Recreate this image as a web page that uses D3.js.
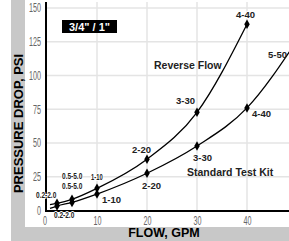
<!DOCTYPE html>
<html>
<head>
<meta charset="utf-8">
<script src="https://cdn.jsdelivr.net/npm/d3@7"></script>
<style>
  body { margin: 0; background: #fff; }
  svg { display: block; }
</style>
</head>
<body>
<div id="chart"></div>
<script>
// data
const flows = [2, 5, 10, 20, 30, 40];
const reverseFlow = [5.3, 8.3, 16.4, 38, 72.7, 138];
const standardKit = [3.3, 6, 12.2, 27.6, 47.8, 76];
const reverseLabels = ["0.2-2.0", "0.5-5.0", "1-10", "2-20", "3-30", "4-40"];
const standardLabels = ["0.2-2.0", "0.5-5.0", "1-10", "2-20", "3-30", "4-40"];
// curves start a little left of the first marker, standard runs past 40
const reverseStart = [0.6, 4.3];
const standardStart = [0.6, 1.5];
const standardEnd = [50, 126];
const xTicks = [0, 10, 20, 30, 40];
const yTicks = [0, 25, 50, 75, 100, 125, 150];

const width = 289, height = 241;

const svg = d3.select("#chart")
    .append("svg")
    .attr("width", width)
    .attr("height", height)
    .style("font-family", "'Liberation Sans', Arial, sans-serif");

// gray L frame
svg.append("rect").attr("x", 11).attr("y", 0).attr("width", width - 11).attr("height", height).attr("fill", "#c8c8c8");
svg.append("rect").attr("x", 25).attr("y", 0).attr("width", width - 25).attr("height", 227).attr("fill", "#fff");

const x = d3.scaleLinear().domain([0, 48.4]).range([47, 289]);
const y = d3.scaleLinear().domain([0, 150]).range([210.5, 8]);

const defs = svg.append("defs");
defs.append("clipPath").attr("id", "plot")
    .append("rect").attr("x", 46).attr("y", 0).attr("width", 243).attr("height", 212);

// grid
svg.append("g")
    .selectAll("line")
    .data(yTicks.filter(d => d > 0))
    .join("line")
    .attr("x1", 46).attr("x2", 289)
    .attr("y1", d => y(d)).attr("y2", d => y(d))
    .attr("stroke", "#e4e4e4").attr("stroke-width", 1.5);

svg.append("g")
    .selectAll("line")
    .data(xTicks.filter(d => d > 0))
    .join("line")
    .attr("x1", d => x(d)).attr("x2", d => x(d))
    .attr("y1", 2).attr("y2", 211)
    .attr("stroke", "#e4e4e4").attr("stroke-width", 1.5);

// axes
const yAxis = svg.append("g")
    .attr("transform", "translate(46,0)")
    .call(d3.axisLeft(y).tickValues(yTicks).tickSize(0).tickPadding(5));
yAxis.select(".domain").remove();
yAxis.selectAll("text")
    .style("font-size", "12px")
    .style("fill", "#666")
    .style("font-family", "'Liberation Sans Narrow', 'Liberation Sans', sans-serif")
    .attr("textLength", d => String(d).length * 4)
    .attr("lengthAdjust", "spacingAndGlyphs");

const xAxis = svg.append("g")
    .attr("transform", "translate(0,211)")
    .call(d3.axisBottom(x).tickValues(xTicks).tickSize(0).tickPadding(5));
xAxis.select(".domain").remove();
xAxis.selectAll("text")
    .style("font-size", "12px")
    .style("fill", "#666")
    .style("font-family", "'Liberation Sans Narrow', 'Liberation Sans', sans-serif")
    .attr("dx", d => d === 0 ? -2.5 : 0)
    .attr("textLength", d => String(d).length * 4)
    .attr("lengthAdjust", "spacingAndGlyphs");

svg.append("line").attr("x1", 46).attr("x2", 46).attr("y1", 2).attr("y2", 212)
    .attr("stroke", "#000").attr("stroke-width", 2);
svg.append("line").attr("x1", 45).attr("x2", 289).attr("y1", 211).attr("y2", 211)
    .attr("stroke", "#000").attr("stroke-width", 2);

// curves
const line = d3.line()
    .x(d => x(d[0]))
    .y(d => y(d[1]))
    .curve(d3.curveMonotoneX);

const reversePts = flows.map((f, i) => [f, reverseFlow[i]]);
const standardPts = flows.map((f, i) => [f, standardKit[i]]);

const plot = svg.append("g").attr("clip-path", "url(#plot)");
plot.append("path")
    .datum([reverseStart, ...reversePts])
    .attr("d", line)
    .attr("fill", "none").attr("stroke", "#000").attr("stroke-width", 1.3);
plot.append("path")
    .datum([standardStart, ...standardPts, standardEnd])
    .attr("d", line)
    .attr("fill", "none").attr("stroke", "#000").attr("stroke-width", 1.3);

const diamond = d3.symbol().type(d3.symbolDiamond).size(26);
plot.selectAll(".mk")
    .data(reversePts.concat(standardPts))
    .join("path")
    .attr("transform", d => `translate(${x(d[0])},${y(d[1])})`)
    .attr("d", diamond)
    .attr("fill", "#000");

// point labels (offsets from each marker)
const revOffsets = [[-21, -9], [-10, -23.5], [-6, -12], [-15, -10], [-21, -12], [-11, -10]];
const stdOffsets = [[-3, 9], [-10, -17], [5, 6], [-5, 12], [-4, 12], [5, 6]];

// smallCount: how many of the first labels are set narrow
function addLabels(pts, labels, offsets, smallCount) {
    const t = svg.append("g")
        .selectAll("text")
        .data(pts)
        .join("text")
        .attr("x", (d, i) => x(d[0]) + offsets[i][0])
        .attr("y", (d, i) => y(d[1]) + offsets[i][1])
        .attr("dy", "0.35em")
        .style("font-size", "9.5px")
        .style("font-weight", "bold")
        .style("fill", "#222")
        .style("paint-order", "stroke")
        .style("stroke", "#fff")
        .style("stroke-width", "2px")
        .text((d, i) => labels[i]);
    t.filter((d, i) => i < smallCount)
        .attr("textLength", (d, i) => labels[i].length * 2.9)
        .attr("lengthAdjust", "spacingAndGlyphs");
}
addLabels(reversePts, reverseLabels, revOffsets, 3);
addLabels(standardPts, standardLabels, stdOffsets, 2);

svg.append("text")
    .attr("x", 287).attr("y", 55).attr("dy", "0.35em")
    .attr("text-anchor", "end")
    .style("font-size", "9.5px").style("font-weight", "bold").style("fill", "#222")
    .text("5-50");

// series names
svg.append("text")
    .attr("x", 154).attr("y", 65).attr("dy", "0.35em")
    .style("font-size", "10.5px").style("font-weight", "bold").style("fill", "#222")
    .text("Reverse Flow");
svg.append("text")
    .attr("x", 187).attr("y", 172).attr("dy", "0.35em")
    .style("font-size", "10.5px").style("font-weight", "bold").style("fill", "#222")
    .text("Standard Test Kit");

// size tag
svg.append("rect").attr("x", 62).attr("y", 20).attr("width", 55).attr("height", 13).attr("fill", "#000");
svg.append("text")
    .attr("x", 89.5).attr("y", 31)
    .attr("text-anchor", "middle")
    .style("font-size", "11px").style("font-weight", "bold").style("fill", "#fff")
    .text("3/4\" / 1\"");

// axis titles
svg.append("text")
    .attr("transform", "translate(23.3,123.5) rotate(-90)")
    .attr("text-anchor", "middle")
    .style("font-size", "13px").style("font-weight", "bold").style("fill", "#000")
    .text("PRESSURE DROP, PSI");
svg.append("text")
    .attr("x", 164).attr("y", 237)
    .attr("text-anchor", "middle")
    .style("font-size", "12.5px").style("font-weight", "bold").style("fill", "#000")
    .text("FLOW, GPM");
</script>
</body>
</html>
